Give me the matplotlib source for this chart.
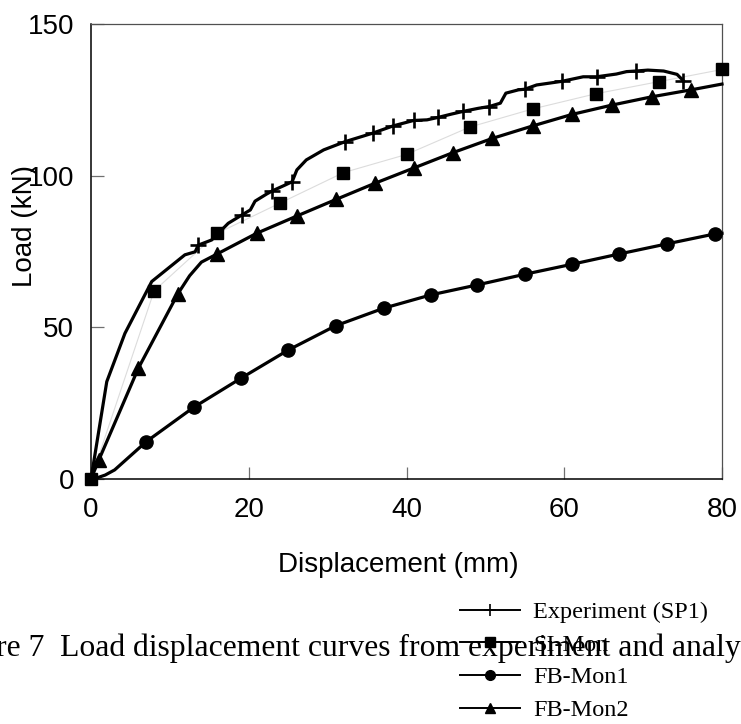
import matplotlib
matplotlib.use("Agg")
import matplotlib.pyplot as plt
from matplotlib.lines import Line2D

# ---------------- data ----------------
# Experiment (SP1)
exp_x = [0, 2.0, 4.3, 7.7, 11.9, 13.2, 13.6, 15.3, 17.4, 19.1, 20.2, 20.8, 22.3, 23.0,
         24.6, 25.5, 26.1, 27.3, 29.5, 32.2, 35.7, 38.3, 40.9, 42.6, 44.0, 45.7, 47.2,
         49.1, 50.5, 51.9, 52.6, 54.2, 55.0, 56.5, 59.7, 62.4, 64.1, 66.6, 67.9, 69.1,
         70.6, 72.6, 74.3, 75.1]
exp_y = [0, 32.1, 48.0, 65.1, 73.9, 74.9, 77.1, 78.8, 84.3, 87.0, 88.7, 91.6, 94.0, 95.0,
         96.9, 98.0, 101.9, 105.2, 108.5, 111.2, 114.0, 116.4, 118.2, 118.4, 119.2, 120.3, 121.2,
         122.2, 122.8, 123.9, 127.2, 128.3, 128.5, 129.9, 131.1, 132.6, 132.6, 133.5, 134.3, 134.5,
         134.8, 134.5, 133.4, 131.3]
exp_marks_x = [13.6, 19.1, 23.0, 25.5, 32.2, 35.7, 38.3, 40.9, 44.0, 47.2, 50.5, 55.0,
               59.7, 64.1, 69.1, 75.1]

# SI-Mon
si_x = [0, 8, 16, 24, 32, 40, 48, 56, 64, 72, 80]
si_y = [0, 62, 81, 91, 101, 107, 116, 122, 127, 131, 135]

# FB-Mon1
fb1_x = [0, 0.9, 1.8, 3.0, 7.0, 13.0, 19.0, 25.0, 31.0, 37.1, 43.1, 49.0, 55.0, 61.0, 67.0, 73.0, 79.1, 80]
fb1_y = [0, 0.5, 1.3, 3.0, 12.3, 23.6, 33.2, 42.5, 50.5, 56.3, 60.7, 64.0, 67.5, 70.8, 74.2, 77.5, 80.8, 81.0]
fb1_marks_x = [7.0, 13.0, 19.0, 25.0, 31.0, 37.1, 43.1, 49.0, 55.0, 61.0, 67.0, 73.0, 79.1]

# FB-Mon2
fb2_x = [0, 1.0, 6.0, 11.0, 12.5, 14.0, 16.0, 21.0, 26.1, 31.1, 36.0, 41.0, 45.9, 50.9, 56.0, 61.0, 66.1, 71.1, 76.1, 80]
fb2_y = [0, 6.3, 36.5, 61.0, 67.0, 71.5, 74.2, 81.0, 86.7, 92.2, 97.5, 102.6, 107.6, 112.3, 116.4, 120.2, 123.3, 126.0, 128.3, 130.2]
fb2_marks_x = [1.0, 6.0, 11.0, 16.0, 21.0, 26.1, 31.1, 36.0, 41.0, 45.9, 50.9, 56.0, 61.0, 66.1, 71.1, 76.1]

labels = ["Experiment (SP1)", "SI-Mon", "FB-Mon1", "FB-Mon2"]
x_ticks = [0, 20, 40, 60, 80]
y_ticks = [0, 50, 100, 150]
x_label = "Displacement (mm)"
y_label = "Load (kN)"
caption = "Figure 7  Load displacement curves from experiment and analysis"

# ---------------- figure ----------------
W, H = 741, 724
fig = plt.figure(figsize=(W / 100, H / 100), dpi=100)
ax = fig.add_axes([91 / W, 1 - 479 / H, (722 - 91) / W, (479 - 24) / H])

sans = ["Liberation Sans", "DejaVu Sans"]
serif = ["Liberation Serif", "DejaVu Serif"]

def idx(xs, marks):
    return [xs.index(m) for m in marks]

lw = 2.3
ax.plot(si_x, si_y, color="#dcdcdc", lw=0.8, zorder=2)
ax.plot(si_x, si_y, ls="none", marker="s", ms=9, color="black", zorder=4, clip_on=False)
ax.plot(fb1_x, fb1_y, color="black", lw=lw, marker="o", ms=9.5,
        markevery=idx(fb1_x, fb1_marks_x), zorder=3, clip_on=False)
ax.plot(fb2_x, fb2_y, color="black", lw=lw, marker="^", ms=10.5,
        markevery=idx(fb2_x, fb2_marks_x), zorder=3, clip_on=False)
ax.plot(exp_x, exp_y, color="black", lw=lw, marker="+", ms=11, mew=1.9,
        markevery=idx(exp_x, exp_marks_x), zorder=3, clip_on=False)

ax.set_xlim(0, 80)
ax.set_ylim(0, 150)
ax.set_xticks(x_ticks)
ax.set_yticks(y_ticks)
ax.tick_params(direction="in", length=9, width=0.9, color="#707070",
               labelsize=20, labelcolor="black")
ax.tick_params(axis="x", pad=13)
ax.tick_params(axis="y", pad=12)
for lab in ax.get_xticklabels() + ax.get_yticklabels():
    lab.set_family(sans)
for s in ["left", "bottom"]:
    ax.spines[s].set_color("black")
    ax.spines[s].set_linewidth(1.1)
for s in ["top", "right"]:
    ax.spines[s].set_color("#505050")
    ax.spines[s].set_linewidth(0.9)

fig.text(398 / W, 1 - 565 / H, x_label, family=sans, fontsize=20, ha="center", va="center")
fig.text(25 / W, 1 - 226 / H, y_label, family=sans, fontsize=20, ha="center", va="center",
         rotation=90)

# caption (partly outside the page, as in the source)
fig.text(-62 / W, 1 - 656 / H, caption, family=serif, fontsize=22.8, ha="left",
         va="baseline")

handles = [
    Line2D([], [], color="black", lw=1.4, marker="+", ms=8, mew=1.2),
    Line2D([], [], color="black", lw=1.4, marker="s", ms=7),
    Line2D([], [], color="black", lw=1.4, marker="o", ms=7),
    Line2D([], [], color="black", lw=1.4, marker="^", ms=7),
]
fig.legend(handles, labels, loc="upper left", bbox_to_anchor=(460 / W, 1 - 601 / H),
           frameon=False, prop={"family": serif, "size": 17.5}, handlelength=2.45,
           handletextpad=0.55, labelspacing=0.44, borderpad=0, borderaxespad=0)

fig.savefig("out.png", dpi=100)
